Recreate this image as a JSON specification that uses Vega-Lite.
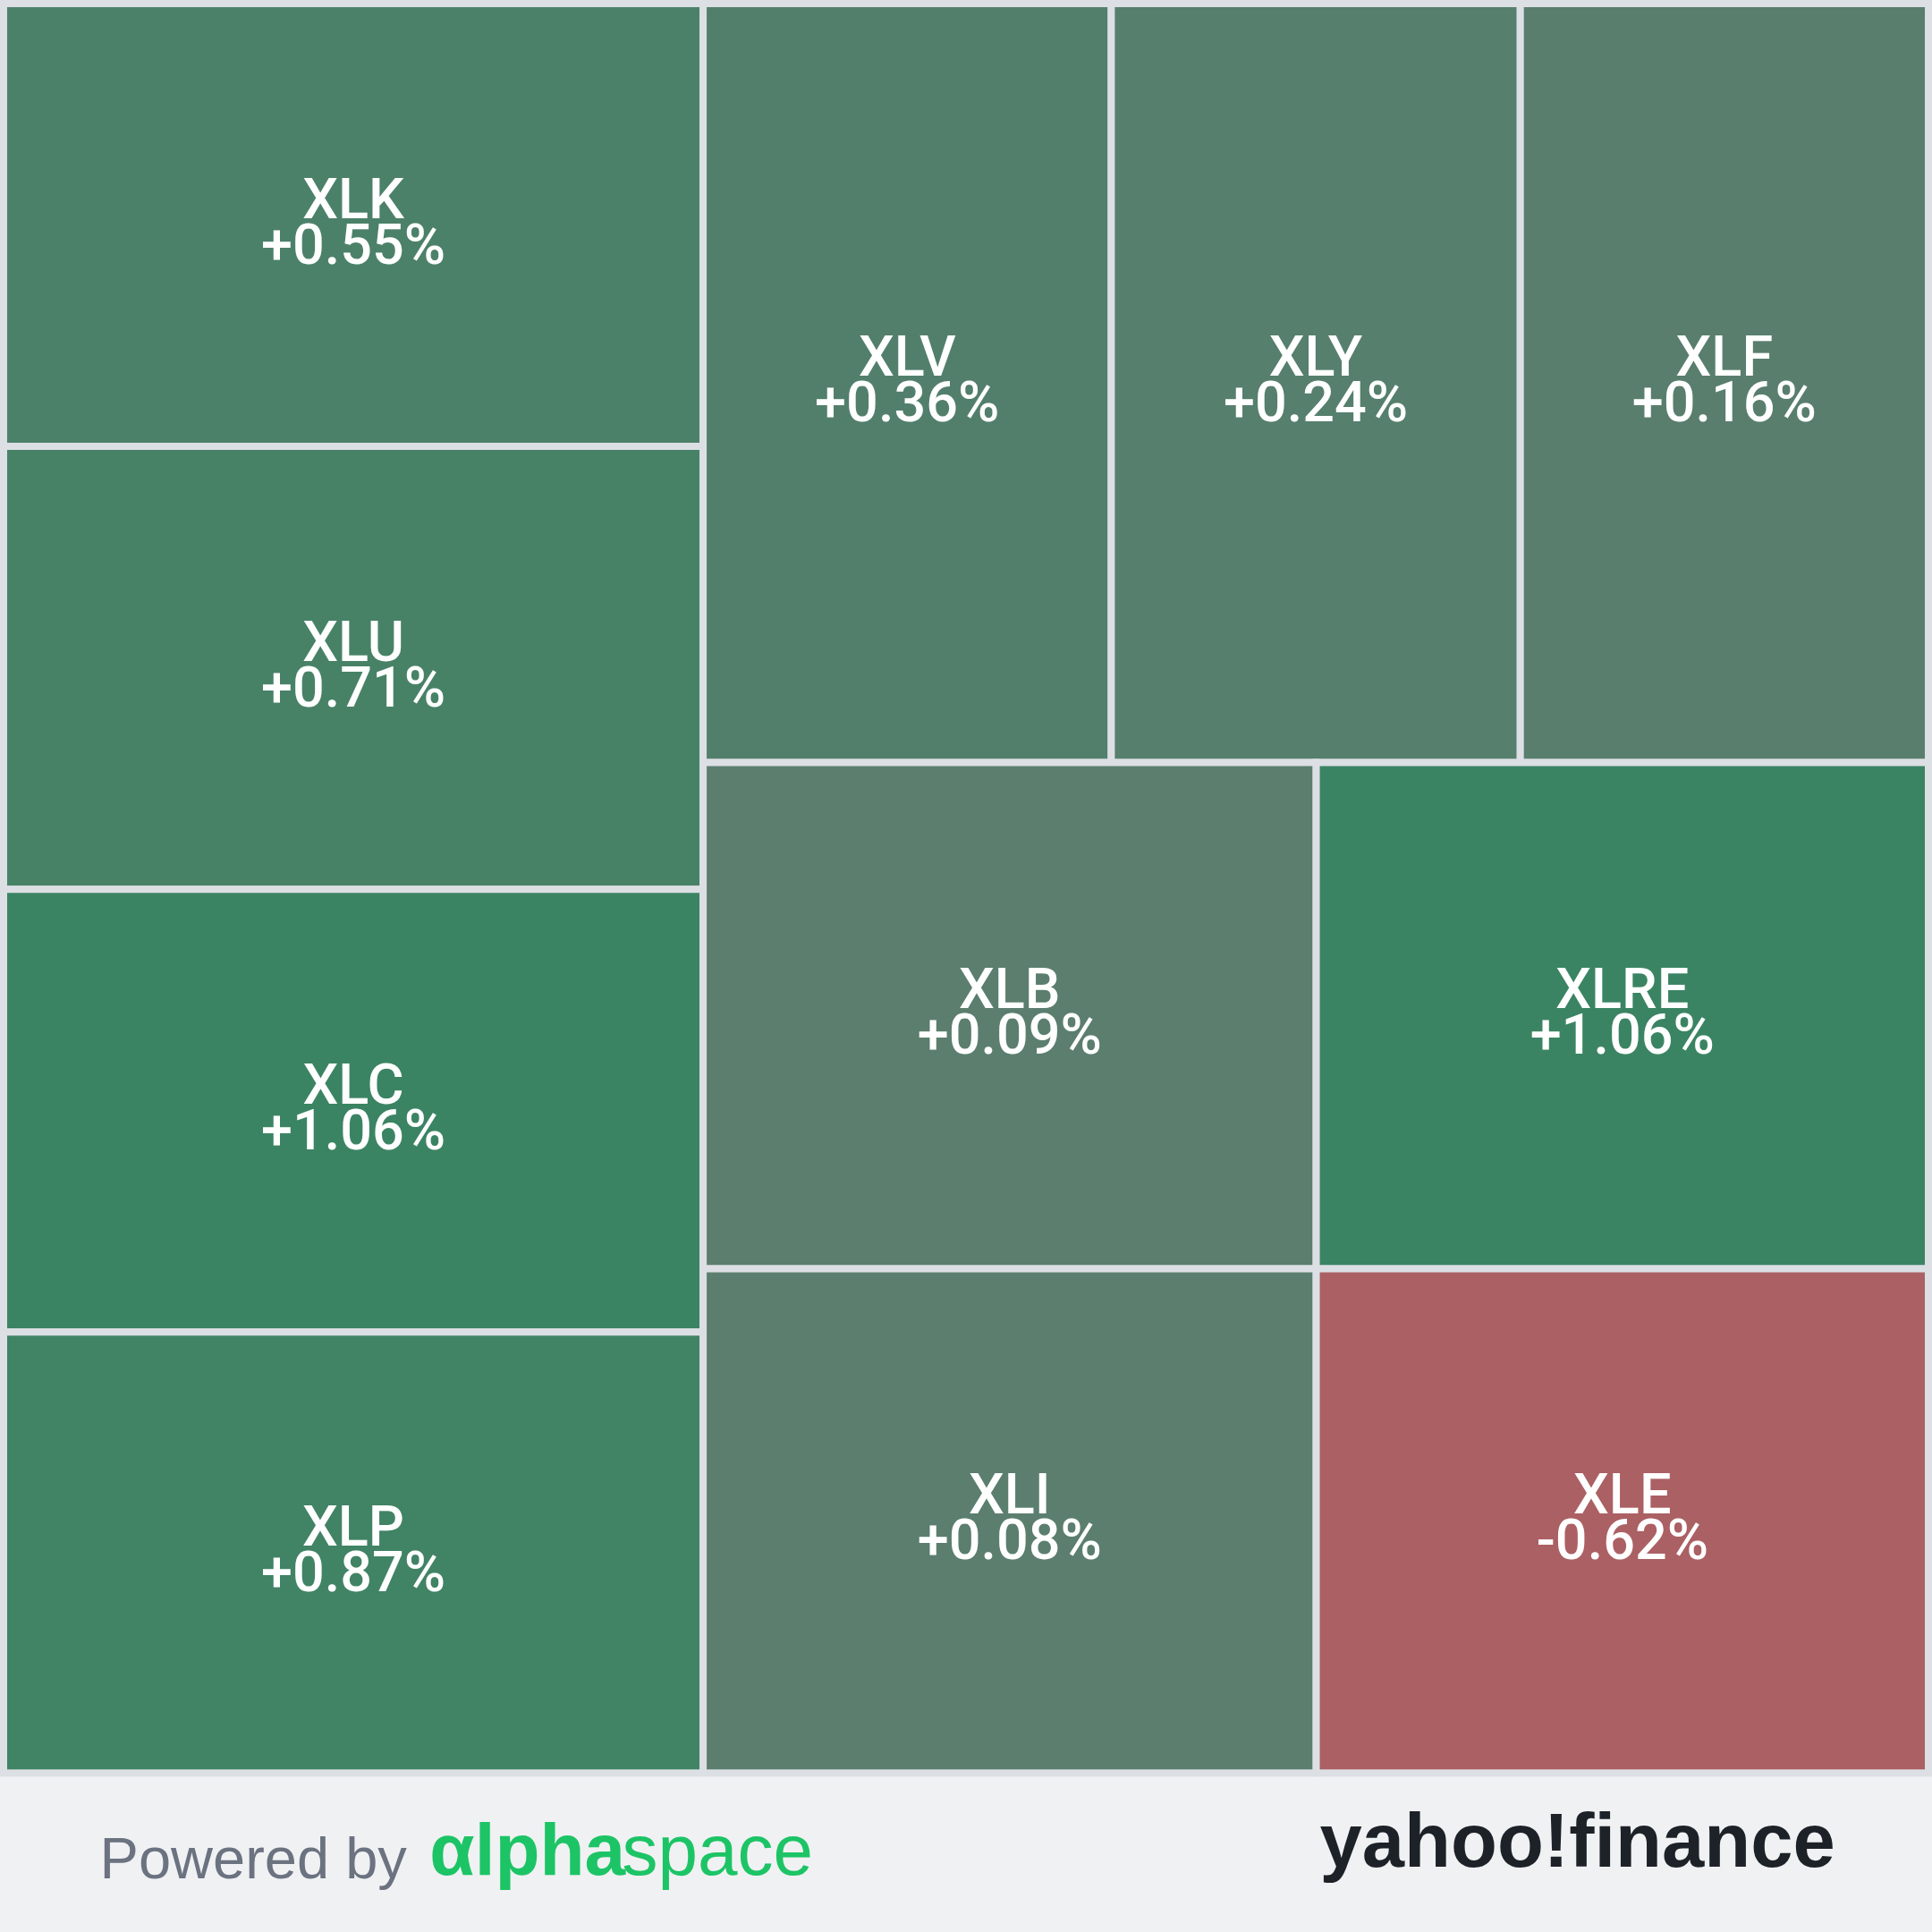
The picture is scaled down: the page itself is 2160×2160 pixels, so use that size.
{
  "$schema": "https://vega.github.io/schema/vega-lite/v6.json",
  "width": 2160,
  "height": 2160,
  "autosize": {"type": "fit", "contains": "padding"},
  "padding": 0,
  "background": "#f0f1f3",
  "config": {"view": {"stroke": null}},
  "layer": [
    {
      "data": {
        "values": [
          {"ticker": "XLK", "change": 0.55, "x0": 0, "x1": 785, "y0": 0, "y1": 496},
          {"ticker": "XLU", "change": 0.71, "x0": 0, "x1": 785, "y0": 496, "y1": 992},
          {"ticker": "XLC", "change": 1.06, "x0": 0, "x1": 785, "y0": 992, "y1": 1488},
          {"ticker": "XLP", "change": 0.87, "x0": 0, "x1": 785, "y0": 1488, "y1": 1982},
          {"ticker": "XLV", "change": 0.36, "x0": 785, "x1": 1243, "y0": 0, "y1": 850},
          {"ticker": "XLY", "change": 0.24, "x0": 1243, "x1": 1702, "y0": 0, "y1": 850},
          {"ticker": "XLF", "change": 0.16, "x0": 1702, "x1": 2160, "y0": 0, "y1": 850},
          {"ticker": "XLB", "change": 0.09, "x0": 785, "x1": 1473, "y0": 850, "y1": 1417},
          {"ticker": "XLRE", "change": 1.06, "x0": 1473, "x1": 2160, "y0": 850, "y1": 1417},
          {"ticker": "XLI", "change": 0.08, "x0": 785, "x1": 1473, "y0": 1417, "y1": 1982},
          {"ticker": "XLE", "change": -0.62, "x0": 1473, "x1": 2160, "y0": 1417, "y1": 1982}
        ]
      },
      "transform": [
        {"calculate": "(datum.x0 + datum.x1) / 2", "as": "cx"},
        {"calculate": "(datum.y0 + datum.y1) / 2", "as": "cy"},
        {"calculate": "(datum.change < 0 ? '-' : '+') + format(abs(datum.change), '.2f') + '%'", "as": "label"}
      ],
      "layer": [
        {
          "mark": {"type": "rect", "stroke": "#dcdfe3", "strokeWidth": 8},
          "encoding": {
            "x": {"field": "x0", "type": "quantitative", "scale": {"domain": [0, 2160], "nice": false, "zero": false}, "axis": null},
            "x2": {"field": "x1"},
            "y": {"field": "y0", "type": "quantitative", "scale": {"domain": [0, 2160], "nice": false, "zero": false, "reverse": true}, "axis": null},
            "y2": {"field": "y1"},
            "color": {
              "field": "change",
              "type": "quantitative",
              "scale": {"domain": [-0.62, 0, 1.06], "range": ["#ab6064", "#5e7d70", "#3b8463"], "interpolate": "rgb"},
              "legend": null
            }
          }
        },
        {
          "mark": {"type": "text", "color": "white", "font": "Roboto", "fontWeight": 500, "fontSize": 63, "baseline": "alphabetic", "align": "center", "dy": -8},
          "encoding": {
            "x": {"field": "cx", "type": "quantitative"},
            "y": {"field": "cy", "type": "quantitative"},
            "text": {"field": "ticker"}
          }
        },
        {
          "mark": {"type": "text", "color": "white", "font": "Roboto", "fontWeight": 500, "fontSize": 63, "baseline": "alphabetic", "align": "center", "dy": 43},
          "encoding": {
            "x": {"field": "cx", "type": "quantitative"},
            "y": {"field": "cy", "type": "quantitative"},
            "text": {"field": "label"}
          }
        }
      ]
    },
    {
      "data": {"values": [{"label": "Powered by"}]},
      "mark": {"type": "text", "color": "#6b7280", "font": "Liberation Sans", "fontSize": 65, "baseline": "alphabetic", "align": "left"},
      "encoding": {
        "x": {"datum": 108, "type": "quantitative"},
        "y": {"datum": 2100, "type": "quantitative"},
        "text": {"field": "label"}
      }
    },
    {
      "data": {"values": [{"label": "αlpha"}]},
      "mark": {"type": "text", "color": "#1cc465", "font": "Liberation Sans", "fontWeight": "bold", "fontSize": 82, "baseline": "alphabetic", "align": "left"},
      "encoding": {
        "x": {"datum": 478, "type": "quantitative"},
        "y": {"datum": 2096, "type": "quantitative"},
        "text": {"field": "label"}
      }
    },
    {
      "data": {"values": [{"label": "space"}]},
      "mark": {"type": "text", "color": "#1cc465", "font": "Liberation Sans", "fontSize": 80, "baseline": "alphabetic", "align": "left"},
      "encoding": {
        "x": {"datum": 694, "type": "quantitative"},
        "y": {"datum": 2096, "type": "quantitative"},
        "text": {"field": "label"}
      }
    },
    {
      "data": {"values": [{"label": "yahoo!finance"}]},
      "mark": {"type": "text", "color": "#1d2228", "font": "Liberation Sans", "fontWeight": "bold", "fontSize": 85, "baseline": "alphabetic", "align": "left"},
      "encoding": {
        "x": {"datum": 1477, "type": "quantitative"},
        "y": {"datum": 2087, "type": "quantitative"},
        "text": {"field": "label"}
      }
    }
  ]
}
